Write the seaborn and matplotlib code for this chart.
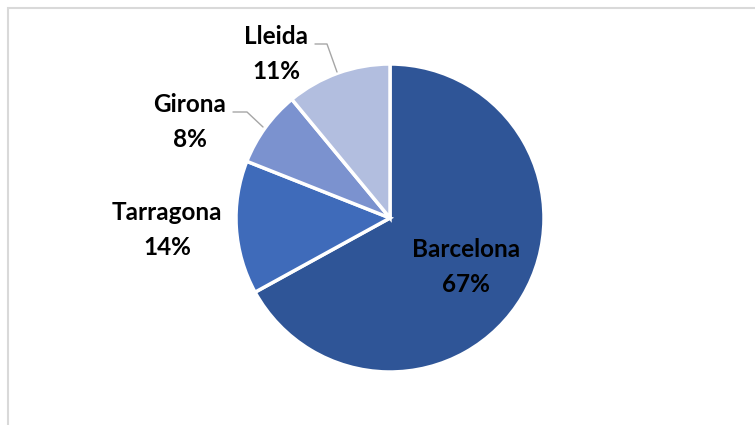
import matplotlib
matplotlib.use("Agg")
import matplotlib.pyplot as plt
from matplotlib.patches import Rectangle
import seaborn as sns

provinces = ["Barcelona", "Tarragona", "Girona", "Lleida"]
shares = [67, 14, 8, 11]
colors = ["#2F5597", "#3F6BBA", "#7B92CF", "#B2BEDF"]

sns.set_theme(style="white")
plt.rcParams["font.family"] = ["Lato", "DejaVu Sans"]

W, H = 755, 425
fig = plt.figure(figsize=(W / 100, H / 100), dpi=100)
fig.patch.set_facecolor("white")

# chart border (top and left visible, rest cropped)
fig.patches.append(Rectangle((7.5 / W, -0.1), 1.2, (H - 7.5) / H + 0.1,
                             transform=fig.transFigure, fill=False,
                             edgecolor="#D9D9D9", linewidth=1.5))

cx, cy, r = 390, 218, 154
ax = fig.add_axes([(cx - r) / W, (H - cy - r) / H, 2 * r / W, 2 * r / H])
ax.pie(shares, colors=colors, startangle=90, counterclock=False, radius=1,
       wedgeprops=dict(edgecolor="white", linewidth=2.5))
ax.set_xlim(-1, 1)
ax.set_ylim(-1, 1)
ax.set_aspect("equal")
ax.axis("off")


def px(x, y):
    return (x - cx) / r, (cy - y) / r


# label anchor points in pixels (centre of two-line label)
label_pos = {
    "Barcelona": (466, 267),
    "Tarragona": (167, 230),
    "Girona": (190, 122),
    "Lleida": (276, 54),
}
for name, val in zip(provinces, shares):
    x, y = px(*label_pos[name])
    ax.text(x, y, f"{name}\n{val}%", ha="center", va="center", fontsize=17.5,
            fontweight="bold", color="black", linespacing=1.6, clip_on=False)

# leader lines
leaders = {
    "Lleida": [(315, 44), (327, 44), (337, 72)],
    "Girona": [(233, 112), (247, 112), (263, 127)],
}
for pts in leaders.values():
    xs, ys = zip(*[px(a, b) for a, b in pts])
    ax.plot(xs, ys, color="#A6A6A6", linewidth=1, clip_on=False)

fig.savefig("out.png", dpi=100)
